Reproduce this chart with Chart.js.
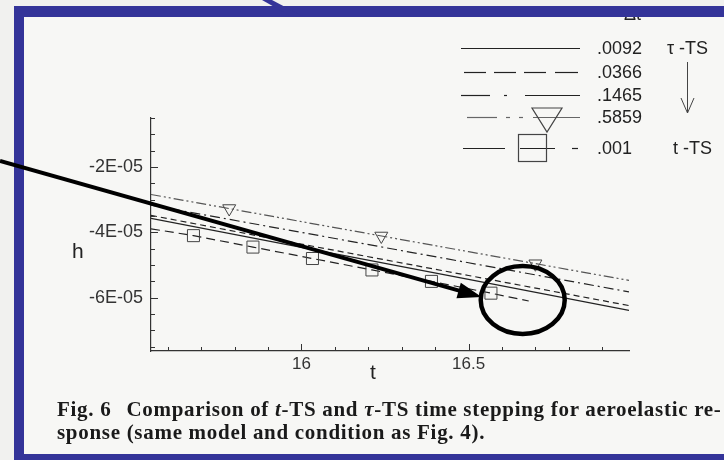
<!DOCTYPE html>
<html>
<head>
<meta charset="utf-8">
<script src="https://cdn.jsdelivr.net/npm/chart.js@4.4.1/dist/chart.umd.min.js"></script>
<style>
html, body { margin: 0; padding: 0; }
body { width: 724px; height: 460px; position: relative; overflow: hidden; background: #f1f1ef; font-family: "Liberation Sans", Arial, sans-serif; color: #222; }
#paper { position: absolute; left: 14px; top: 6px; width: 710px; height: 454px; background: #f7f7f5; }
.bar { position: absolute; background: #343499; }
#barLeft { left: 14px; top: 6px; width: 10px; height: 454px; z-index: 1; }
#barTop { left: 14px; top: 6px; width: 710px; height: 11px; z-index: 6; }
#barBottom { left: 14px; top: 454px; width: 710px; height: 6px; z-index: 6; }
#chart { position: absolute; left: 0; top: 0; z-index: 2; }
.txt { position: absolute; white-space: nowrap; z-index: 3; }
.leg { font-size: 18px; line-height: 20px; }
.axt { font-size: 21px; line-height: 24px; }
#caption { position: absolute; left: 57px; top: 398px; z-index: 3; font-family: "Liberation Serif", "Times New Roman", serif; font-weight: bold; font-size: 21px; letter-spacing: 0.7px; line-height: 23px; color: #1a1a1a; white-space: nowrap; }
svg.sample { position: absolute; z-index: 3; overflow: visible; }
</style>
</head>
<body>
<div id="paper"></div>
<div class="bar" id="barLeft"></div>
<div class="bar" id="barTop"></div>
<div class="bar" id="barBottom"></div>
<svg class="sample" style="left:0;top:0;z-index:6" width="724" height="20"><polygon points="262,0 272,0 304,17 292,17" fill="#343499"/></svg>
<canvas id="chart" width="724" height="460"></canvas>
<div class="txt axt" style="left:72px;top:239px;">h</div>
<div class="txt axt" style="left:370px;top:360px;">t</div>
<div class="txt leg" style="left:624px;top:4px;">Δt</div>
<div class="txt leg" style="left:667px;top:38px;">τ -TS</div>
<div class="txt leg" style="left:673px;top:138px;">t -TS</div>
<svg class="sample" style="left:676px;top:60px" width="24" height="56"><line x1="11.5" y1="2" x2="11.5" y2="53" stroke="#444" stroke-width="1"/><polyline points="5,38 11.5,53 18,38" fill="none" stroke="#444" stroke-width="1"/></svg>
<div id="caption">Fig. 6<span style="display:inline-block;width:15px"></span>Comparison of <i>t</i>-TS and <i>τ</i>-TS time stepping for aeroelastic re-<br>sponse (same model and condition as Fig. 4).</div>
<script>
// time axis sample points and h
const tAxis = [15.55, 16.0, 16.5, 16.98];
const h0092 = [-3.57e-5, -4.46e-5, -5.44e-5, -6.39e-5];
const h0366 = [-3.48e-5, -4.36e-5, -5.32e-5, -6.24e-5];
const h1465 = [-3.17e-5, -4.00e-5, -4.93e-5, -5.82e-5];
const h5859 = [-2.84e-5, -3.67e-5, -4.59e-5, -5.47e-5];
// triangle symbols on the .5859 curve
const triT = [15.784, 16.239, 16.70];
const triH = [-3.27e-5, -4.11e-5, -4.96e-5];
// t-TS curve, squares at inner points
const ttsT = [15.55, 15.677, 15.855, 16.033, 16.211, 16.389, 16.567, 16.68];
const ttsH = [-3.89e-5, -4.10e-5, -4.45e-5, -4.80e-5, -5.15e-5, -5.50e-5, -5.86e-5, -6.10e-5];

const legendLabels = ['.0092', '.0366', '.1465', '.5859', '.001'];
const legendRowY = [48, 72, 95, 117, 148];

const xMin = 15.55, xMax = 16.98;
const yMin = -7.63e-5, yMax = -0.5e-5;

const ink = '#222';
const grey = '#555';

function pairs(xs, ys) {
    return xs.map((x, i) => ({x: x, y: ys[i]}));
}

// legend samples
const segs = [
    [[0, 119]],
    [[3, 25], [33, 55], [63, 85], [94, 117]],
    [[0, 29], [43, 46], [64, 119]],
    [[6, 36], [45, 49], [58, 62], [72, 119]],
    [[2, 44], [59, 94], [111, 117]],
];
legendLabels.forEach((lab, i) => {
    const cy = legendRowY[i];
    const col = i === 3 ? '#666' : ink;
    let s = '<svg class="sample" style="left:461px;top:' + (cy - 20) + 'px" width="122" height="40">';
    segs[i].forEach(g => {
        s += '<line x1="' + g[0] + '" x2="' + g[1] + '" y1="20.5" y2="20.5" stroke="' + col + '" stroke-width="1.2"/>';
    });
    if (i === 3) s += '<polygon points="71,11 101,11 86,35" fill="none" stroke="#444" stroke-width="1.2"/>';
    if (i === 4) s += '<rect x="57.5" y="6.5" width="28" height="27" fill="none" stroke="#444" stroke-width="1.2"/>';
    s += '</svg>';
    document.body.insertAdjacentHTML('beforeend', s);
    document.body.insertAdjacentHTML('beforeend',
        '<div class="txt leg" style="left:597px;top:' + (cy - 10) + 'px;">' + lab + '</div>');
});

const innerTicks = {
    id: 'innerTicks',
    afterDraw(chart) {
        const {ctx, chartArea: a, scales: {x, y}} = chart;
        ctx.save();
        ctx.strokeStyle = '#333';
        ctx.lineWidth = 1;
        ctx.beginPath();
        x.ticks.forEach(tk => {
            const px = Math.round(x.getPixelForValue(tk.value)) + 0.5;
            const len = tk.label ? 7 : 4;
            ctx.moveTo(px, a.bottom);
            ctx.lineTo(px, a.bottom - len);
        });
        y.ticks.forEach(tk => {
            const py = Math.round(y.getPixelForValue(tk.value)) + 0.5;
            const len = tk.label ? 7 : 4;
            ctx.moveTo(a.left, py);
            ctx.lineTo(a.left + len, py);
        });
        ctx.stroke();

        // hand-drawn annotation: arrow + circle round the end of the t-TS curve
        const ex = x.getPixelForValue(ttsT[ttsT.length - 1]) - 6;
        const ey = y.getPixelForValue(ttsH[ttsH.length - 1]) - 1;
        ctx.strokeStyle = '#000';
        ctx.fillStyle = '#000';
        ctx.lineWidth = 4.5;
        ctx.beginPath();
        ctx.ellipse(ex, ey, 42, 34, 0, 0, Math.PI * 2);
        ctx.stroke();
        const tipX = ex - 41, tipY = ey - 3;
        const sx = 0, sy = 161;
        const ang = Math.atan2(tipY - sy, tipX - sx);
        ctx.lineWidth = 4;
        ctx.beginPath();
        ctx.moveTo(sx, sy);
        ctx.lineTo(tipX - 18 * Math.cos(ang), tipY - 18 * Math.sin(ang));
        ctx.stroke();
        ctx.beginPath();
        ctx.moveTo(tipX, tipY);
        ctx.lineTo(tipX - 24 * Math.cos(ang) + 8 * Math.sin(ang), tipY - 24 * Math.sin(ang) - 8 * Math.cos(ang));
        ctx.lineTo(tipX - 24 * Math.cos(ang) - 8 * Math.sin(ang), tipY - 24 * Math.sin(ang) + 8 * Math.cos(ang));
        ctx.closePath();
        ctx.fill();
        ctx.restore();
    }
};

const lineDefaults = {fill: false, tension: 0, pointRadius: 0, borderWidth: 1.2};

new Chart(document.getElementById('chart'), {
    type: 'line',
    data: {
        datasets: [
            Object.assign({label: '.0092', data: pairs(tAxis, h0092), borderColor: ink, borderDash: []}, lineDefaults),
            Object.assign({label: '.0366', data: pairs(tAxis, h0366), borderColor: ink, borderDash: [6, 4]}, lineDefaults),
            Object.assign({label: '.1465', data: pairs(tAxis, h1465), borderColor: ink, borderDash: [10, 4, 2, 4]}, lineDefaults),
            Object.assign({label: '.5859', data: pairs(tAxis, h5859), borderColor: grey, borderDash: [10, 3, 2, 3, 2, 3]}, lineDefaults),
            {
                label: '.5859 symbols', data: pairs(triT, triH), showLine: false,
                pointStyle: 'triangle', rotation: 180, pointRadius: 7.5,
                borderColor: '#444', borderWidth: 1, backgroundColor: 'rgba(0,0,0,0)'
            },
            {
                label: '.001', data: pairs(ttsT, ttsH), fill: false, tension: 0,
                borderColor: ink, borderWidth: 1.2, borderDash: [9, 5],
                pointStyle: 'rect', backgroundColor: 'rgba(0,0,0,0)', pointBorderColor: '#444', pointBorderWidth: 1,
                pointRadius: ttsT.map((t, i) => (i === 0 || i === ttsT.length - 1) ? 0 : 8.5)
            }
        ]
    },
    options: {
        responsive: false,
        animation: false,
        events: [],
        layout: {padding: {left: 0, top: 118, right: 95, bottom: 69}},
        plugins: {legend: {display: false}, tooltip: {enabled: false}},
        scales: {
            x: {
                type: 'linear', min: xMin, max: xMax,
                grid: {display: false, drawTicks: false},
                border: {display: true, color: '#333', width: 1.2},
                ticks: {
                    stepSize: 0.1, includeBounds: false, maxTicksLimit: 100, autoSkip: false, maxRotation: 0,
                    padding: 3, color: '#333', font: {family: '"Liberation Sans", Arial, sans-serif', size: 17},
                    callback: v => Math.abs(v * 2 - Math.round(v * 2)) < 1e-6 ? String(Math.round(v * 10) / 10) : ''
                },
                afterFit: s => { s.height = 40; }
            },
            y: {
                type: 'linear', min: yMin, max: yMax,
                grid: {display: false, drawTicks: false},
                border: {display: true, color: '#333', width: 1.2},
                ticks: {
                    stepSize: 0.5e-5, includeBounds: false, maxTicksLimit: 100, autoSkip: false,
                    padding: 8, color: '#333', font: {family: '"Liberation Sans", Arial, sans-serif', size: 18},
                    callback: v => {
                        const n = v / 1e-5;
                        return Math.abs(n / 2 - Math.round(n / 2)) < 1e-6 ? '-' + Math.abs(Math.round(n)) + 'E-05' : '';
                    }
                },
                afterFit: s => { s.width = 151; }
            }
        }
    },
    plugins: [innerTicks]
});
</script>
</body>
</html>
